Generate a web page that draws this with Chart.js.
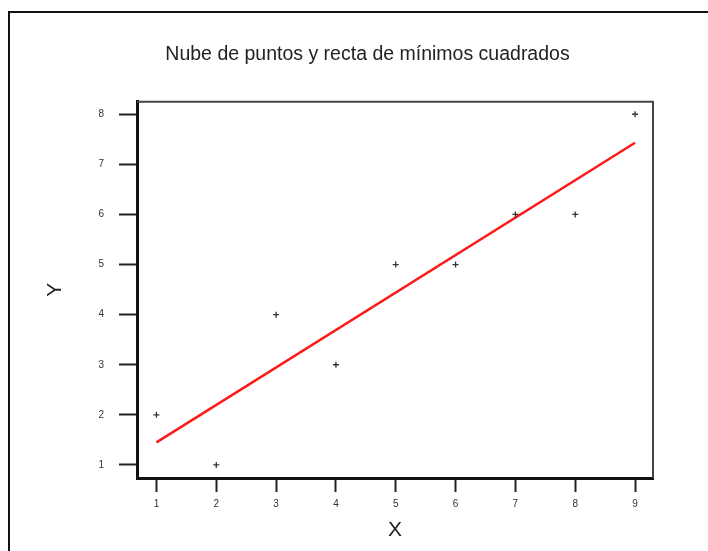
<!DOCTYPE html>
<html>
<head>
<meta charset="utf-8">
<script src="https://cdn.jsdelivr.net/npm/chart.js@4/dist/chart.umd.min.js"></script>
<style>
  body { margin: 0; background: #fff; overflow: hidden; }
  #frame { position: absolute; left: 8px; top: 11px; width: 800px; height: 600px;
           border-top: 2px solid #111; border-left: 2px solid #111; }
  #chart { position: absolute; left: 0; top: 0; }
</style>
</head>
<body>
<div id="frame"></div>
<canvas id="chart" width="708" height="551"></canvas>
<script>
const xValues = [1, 2, 3, 4, 5, 6, 7, 8, 9];
const yValues = [2, 1, 4, 3, 5, 5, 6, 6, 8];
const lineX = [1, 9];          // ends of the least squares line
const lineY = [1.45, 7.43];
const xTicks = [1, 2, 3, 4, 5, 6, 7, 8, 9];
const yTicks = [1, 2, 3, 4, 5, 6, 7, 8];

const FONT = "'Liberation Sans', Arial, sans-serif";

// top and right edges of the plot box
const boxFrame = {
  id: 'boxFrame',
  afterDraw(chart) {
    const a = chart.chartArea, ctx = chart.ctx;
    ctx.save();
    ctx.strokeStyle = '#444';
    ctx.lineWidth = 2;
    ctx.beginPath();
    ctx.moveTo(a.left, a.top);
    ctx.lineTo(a.right, a.top);
    ctx.lineTo(a.right, a.bottom);
    ctx.stroke();
    ctx.restore();
  }
};

new Chart(document.getElementById('chart').getContext('2d'), {
  type: 'scatter',
  data: {
    datasets: [{
      label: 'datos',
      data: xValues.map((x, i) => ({x: x, y: yValues[i]})),
      pointStyle: 'cross',
      pointRadius: 3,
      borderWidth: 1.3,
      borderColor: '#333',
      backgroundColor: '#333'
    }, {
      type: 'line',
      label: 'recta',
      data: lineX.map((x, i) => ({x: x, y: lineY[i]})),
      borderColor: '#ff1a1a',
      borderWidth: 2.5,
      pointRadius: 0,
      fill: false
    }]
  },
  options: {
    responsive: false,
    animation: false,
    devicePixelRatio: 1,
    layout: { padding: { left: 82, right: 55, top: 10, bottom: 0 } },
    plugins: {
      legend: { display: false },
      tooltip: { enabled: false },
      title: {
        display: true,
        text: 'Nube de puntos y recta de mínimos cuadrados',
        color: '#222',
        font: { family: FONT, size: 19.5, weight: 'normal' },
        padding: { top: 33.3, bottom: 35 }
      }
    },
    scales: {
      x: {
        type: 'linear',
        min: 0.675,
        max: 9.3,
        afterBuildTicks: s => { s.ticks = xTicks.map(v => ({value: v})); },
        afterFit: s => { s.height = 73; },
        grid: { drawOnChartArea: false, drawTicks: true, tickLength: 14, tickWidth: 2, tickColor: '#222' },
        border: { display: true, color: '#111', width: 3 },
        ticks: { color: '#333', padding: 6, font: { family: FONT, size: 10 } },
        title: { display: true, text: 'X', color: '#222', font: { family: FONT, size: 21 }, padding: { top: 0, bottom: 8.4 } }
      },
      y: {
        type: 'linear',
        min: 0.74,
        max: 8.25,
        afterBuildTicks: s => { s.ticks = yTicks.map(v => ({value: v})); },
        afterFit: s => { s.width = 55; },
        grid: { drawOnChartArea: false, drawTicks: true, tickLength: 18, tickWidth: 2, tickColor: '#222' },
        border: { display: true, color: '#111', width: 3 },
        ticks: { color: '#333', padding: 15, font: { family: FONT, size: 10 } },
        title: { display: true, text: 'Y', color: '#222', font: { family: FONT, size: 21 }, padding: { top: -39.6, bottom: 0 } }
      }
    }
  },
  plugins: [boxFrame]
});
</script>
</body>
</html>
